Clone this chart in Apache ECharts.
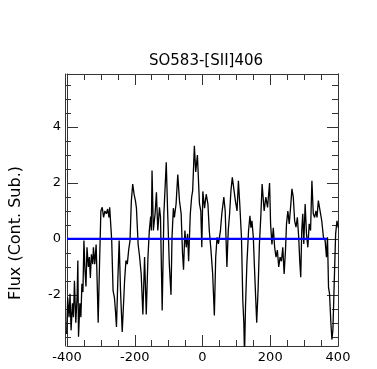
<!DOCTYPE html>
<html>
<head>
<meta charset="utf-8">
<script src="https://cdn.jsdelivr.net/npm/echarts@6/dist/echarts.min.js"></script>
<style>
  html, body { margin: 0; padding: 0; background: #fff; }
  #chart { width: 377px; height: 369px; }
</style>
</head>
<body>
<div id="chart"></div>
<script>
// spectrum: velocity (km/s) and continuum-subtracted flux
const velocity = [
  -401, -398, -394, -391, -388, -384, -381, -378, -374, -370,
  -368, -366, -362, -359, -356, -353, -350, -347, -344, -341,
  -337, -334, -331, -328, -324, -322, -318, -314, -311, -308,
  -304, -300, -296, -292, -288, -284, -280, -276, -274, -271,
  -268, -264, -260, -257, -254, -250, -246, -242, -237, -233,
  -230, -226, -222, -218, -214, -210, -206, -202, -198, -195,
  -190, -186, -181, -176, -171, -166, -161, -157, -153, -151,
  -149, -145, -140, -136, -132, -127, -124, -119, -114, -107,
  -103, -98, -93, -90, -86, -83, -78, -73, -68, -63,
  -59, -56, -52, -48, -44, -41, -36, -32, -29, -24,
  -20, -15, -9, -5, -2, 1, 6, 11, 16, 20,
  25, 30, 35, 39, 43, 47, 53, 57, 63, 67,
  72, 76, 80, 84, 88, 92, 97, 102, 106, 110,
  115, 119, 122, 124, 127, 131, 136, 140, 143, 146,
  150, 153, 157, 160, 164, 168, 172, 176, 182, 187,
  192, 196, 198, 201, 205, 209, 213, 217, 221, 225,
  229, 233, 237, 241, 245, 248, 252, 256, 260, 264,
  268, 272, 276, 280, 284, 287, 290, 293, 296, 299,
  303, 307, 311, 315, 319, 323, 327, 331, 335, 338,
  342, 347, 352, 357, 362, 366, 369, 372, 375, 379,
  382, 385, 389, 393, 397, 401
];
const flux = [
  -3.4, -2.1, -2.8, -1.96, -3.27, -2.3, -2.8, -1.5, -3.0, -2.0,
  -0.77, -3.5, -2.3, -2.8, -1.6, -1.9, -0.06, -1.1, -1.7, -0.3,
  -1.0, -0.65, -1.4, -0.55, -0.9, -0.3, -0.9, -0.2, -1.5, -3.0,
  -0.9, 1.0, 1.13, 0.77, 1.0, 0.9, 1.07, 0.77, 1.13, 0.54,
  -0.06, -1.85, -2.1, -2.56, -3.15, -1.5, -0.06, -1.85, -3.33, -2.3,
  -1.49, -0.77, -0.9, -0.4, -0.06, 1.37, 1.96, 1.6, 1.37, 1.1,
  -0.2, -0.6, -1.25, -2.7, -0.65, -2.7, -0.65, 0.3, 0.8, 0.3,
  2.45, 0.3, 0.9, 1.67, 0.3, 1.13, 0.77, -2.56, 0.9, 2.74,
  1.0, -0.9, -2.0, 0.06, 1.1, 0.77, 1.25, 2.3, 1.37, 0.9,
  -0.5, -1.1, 0.3, -0.3, 0.18, -0.8, 0.9, 1.5, 1.73, 3.33,
  2.4, 3.0, 1.26, 1.0, -0.3, 1.7, 1.1, 1.6, 1.25, 0.3,
  -0.4, -1.25, -2.74, -0.65, 0.06, -0.18, 0.3, 0.9, 1.5, 1.0,
  -1.0, 0.3, 0.9, 1.73, 2.2, 2.26, 1.37, 1.0, 2.08, 1.25,
  0.06, -2.2, -3.0, -4.2, -2.4, -0.9, 0.3, 0.83, 0.4, 0.65,
  0.06, -0.9, -2.1, -3.0, -1.85, -0.18, 0.77, 1.96, 1.0, 1.5,
  1.13, 1.1, 2.0, 0.54, -0.2, 0.4, -0.3, -0.65, -0.4, -1.0,
  -0.65, -0.8, -0.3, -1.25, -0.4, 0.54, 1.0, 0.54, 1.13, 1.79,
  1.5, 0.65, 0.42, 0.77, 0.06, -0.77, -1.37, 0.3, 0.9, -0.18,
  1.25, 0.18, -0.3, 0.54, 0.3, 2.08, 0.9, 0.77, 1.0, 0.77,
  1.37, 1.37, 0.65, 0.06, -0.06, -0.65, 0.06, -1.73, -1.96, -3.0,
  -3.6, -3.25, -1.5, 0.18, 0.65, 0.4
];

// blue zero line
const zeroV = [-400, 368];
const zeroF = [0, 0];

const xTicks = [-400, -200, 0, 200, 400];
const yMajor = [-2, 0, 2, 4];
const yMinor = [-3.5, -3, -2.5, -1.5, -1, -0.5, 0.5, 1, 1.5, 2.5, 3, 3.5, 4.5, 5, 5.5];
const yRange = [-3.83, 5.9];

const font = 'DejaVu Sans';
const axisColor = '#333';

const chart = echarts.init(document.getElementById('chart'), null, { renderer: 'canvas' });

const gridBox = { left: 65, right: 39, top: 74, bottom: 23 };

const xBase = (pos, showLabel) => ({
  type: 'value', gridIndex: 0, position: pos,
  min: xTicks[0], max: xTicks[xTicks.length - 1], interval: 200,
  axisLine: { show: true, onZero: false, lineStyle: { color: axisColor, width: 1 } },
  axisTick: { show: true, inside: true, length: 11, lineStyle: { color: axisColor } },
  minorTick: { show: true, splitNumber: 4, length: 6, lineStyle: { color: axisColor } },
  splitLine: { show: false },
  axisLabel: { show: showLabel, color: '#000', fontFamily: font, fontSize: 13, margin: 5 }
})

const yBase = (grid, pos, ticks, len, showLabel) => ({
  type: 'value', gridIndex: grid, position: pos,
  min: yRange[0], max: yRange[1],
  axisLine: { show: true, onZero: false, lineStyle: { color: axisColor, width: 1 } },
  axisTick: { show: true, inside: true, length: len, customValues: ticks, lineStyle: { color: axisColor } },
  splitLine: { show: false },
  axisLabel: { show: showLabel, customValues: ticks, color: '#000', fontFamily: font, fontSize: 13, margin: 6 }
})

const yLeft = yBase(0, 'left', yMajor, 11, true)
yLeft.name = 'Flux (Cont. Sub.)'
yLeft.nameLocation = 'middle'
yLeft.nameGap = 43
// shift the rotated name a bit below the axis middle, as in the reference
yLeft.nameTextStyle = { color: '#000', fontFamily: font, fontSize: 16, padding: [0, 46, 0, 0] }

chart.setOption({
  animation: false,
  backgroundColor: '#fff',
  title: {
    text: 'SO583-[SII]406',
    left: 201, top: 49, textAlign: 'center',
    textStyle: { color: '#000', fontFamily: font, fontSize: 15, fontWeight: 'normal' }
  },
  grid: [
    Object.assign({}, gridBox),
    Object.assign({}, gridBox)
  ],
  xAxis: [
    xBase('bottom', true),
    xBase('top', false),
    { type: 'value', gridIndex: 1, min: -400, max: 400, show: false }
  ],
  yAxis: [
    yLeft,
    yBase(0, 'right', yMajor, 11, false),
    yBase(1, 'left', yMinor, 6, false),
    yBase(1, 'right', yMinor, 6, false)
  ],
  series: [
    {
      type: 'line',
      xAxisIndex: 0, yAxisIndex: 0,
      data: velocity.map((v, i) => [v, flux[i]]),
      showSymbol: false,
      clip: true,
      lineStyle: { color: '#000', width: 1.3 }
    },
    {
      type: 'line',
      xAxisIndex: 0, yAxisIndex: 0,
      data: zeroV.map((v, i) => [v, zeroF[i]]),
      showSymbol: false,
      lineStyle: { color: '#0000ff', width: 2.2 }
    }
  ]
})
</script>
</body>
</html>
